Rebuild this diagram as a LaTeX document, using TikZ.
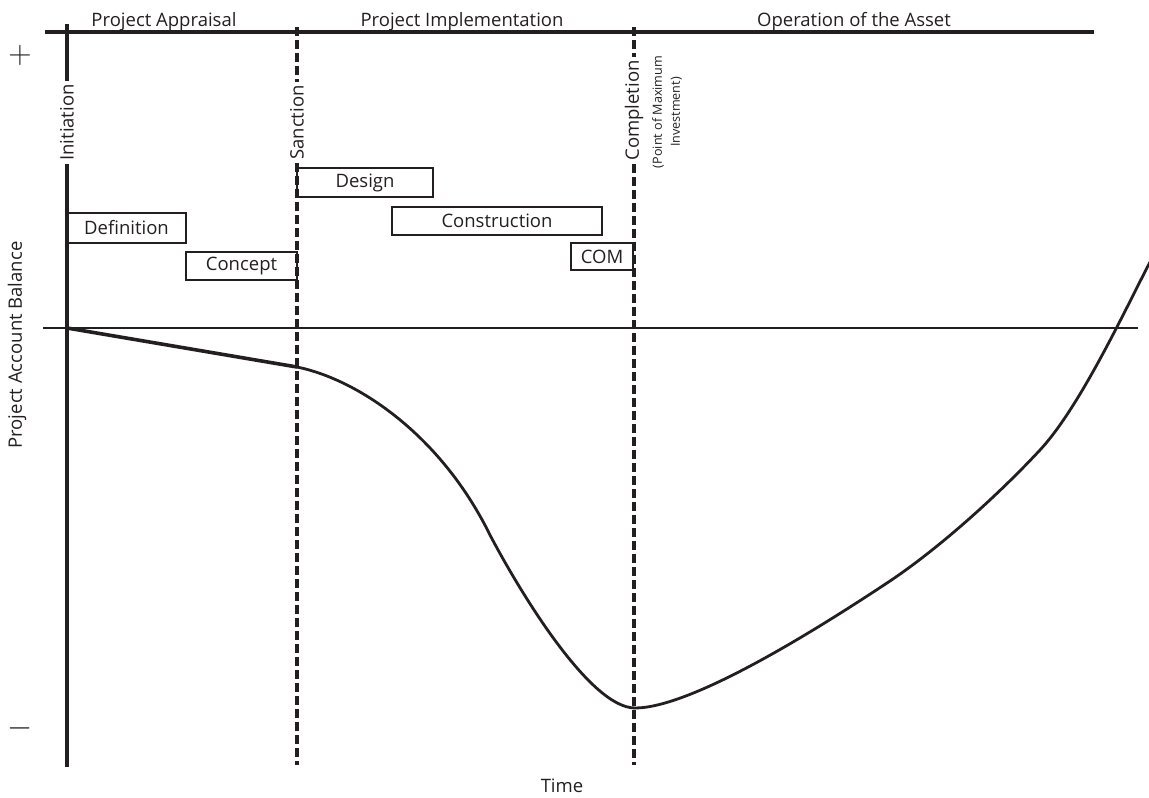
\documentclass[tikz,border=0pt]{standalone}
\usepackage{fontspec}
\setmainfont{Open Sans}
\definecolor{ink}{RGB}{35,31,32}
\begin{document}
\begin{tikzpicture}[x=1pt,y=-1pt,
  every node/.style={text=ink, font=\fontsize{18.5}{22}\selectfont},
  axisline/.style={draw=ink, line width=3.3pt},
  zeroline/.style={draw=ink, line width=2.9pt},
  milestone/.style={draw=ink, line width=3.3pt, dash pattern=on 9pt off 4pt},
  phase/.style={draw=ink, line width=1.4pt, inner sep=0pt},
  vlabel/.style={rotate=90, inner xsep=3pt, inner ysep=0pt},
  sign/.style={scale=1.3, font=\fontsize{24}{24}\selectfont},
  balance/.style={draw=ink, line width=2.8pt, line join=round, line cap=round}]
\useasboundingbox (0,0) rectangle (1149,798);

% phase headings
\node[anchor=base] (appr) at (164,26.5) {Project Appraisal};
\node[anchor=base] (impl) at (462,26.5) {Project Implementation};
\node[anchor=base] (oper) at (854,26.5) {Operation of the Asset};

% top and zero lines
\coordinate (topL) at (45,32);
\coordinate (topR) at (1094,32);
\draw[axisline] (topL) -- (topR);
\coordinate (zeroL) at (43,328);
\coordinate (zeroR) at (1138,328);
\draw[zeroline] (zeroL) -- (zeroR);

% Initiation
\node[vlabel] (init) at (67,122.5) {Initiation};
\coordinate (initT) at (67,24);
\coordinate (initB) at (67,767);
\draw[axisline] (initT) -- (init.east);
\draw[axisline] (init.west) -- (initB);

% Sanction
\node[vlabel] (sanc) at (297,122.5) {Sanction};
\coordinate (sancT) at (297,27);
\coordinate (sancB) at (297,765);
\draw[milestone] (sancT) -- (sanc.east);
\draw[milestone] (sanc.west) -- (sancB);

% Completion
\node[vlabel] (comp) at (634,110.5) {Completion};
\coordinate (compT) at (634,27);
\coordinate (compB) at (634,765);
\draw[milestone] (compT) -- (comp.east);
\draw[milestone] (comp.west) -- (compB);
\node[rotate=90, align=center, inner sep=0pt, font=\fontsize{12.6}{18}\selectfont] (pmi) at (667,112) {(Point of Maximum\\Investment)};

% phase boxes
\node[phase, minimum width=119pt, minimum height=30pt] (def) at (126.5,228) {Definition};
\node[phase, minimum width=111pt, minimum height=28pt] (con) at (241.5,266) {Concept};
\node[phase, minimum width=136pt, minimum height=29pt] (des) at (365,182.5) {Design};
\node[phase, minimum width=210pt, minimum height=28pt] (cst) at (497,221) {Construction};
\node[phase, minimum width=62pt, minimum height=27pt] (com) at (602,256.5) {COM};

% balance curve
\coordinate (orig) at (67,328);
\coordinate (sancPt) at (297,367);
\coordinate (steep) at (490,535);
\coordinate (low) at (635,708);
\coordinate (c1) at (887,583);
\coordinate (c2) at (1040,450);
\coordinate (endPt) at (1150,262);
\draw[balance, line width=3.6pt] (orig) -- (sancPt);
\draw[balance] (sancPt) .. controls (360,380) and (442,437) .. (steep)
  .. controls (520,592) and (590,708) .. (low)
  .. controls (690,708) and (810,634) .. (c1)
  .. controls (940,548) and (1000,493) .. (c2)
  .. controls (1080,407) and (1125,310) .. (endPt);

% axis labels
\node (time) at (562,786) {Time};
\node[rotate=90] (pab) at (17,345) {Project Account Balance};
\node[sign] (plus) at (20,55) {$+$};
\node[sign] (minus) at (20,728) {$-$};
\end{tikzpicture}
\end{document}
